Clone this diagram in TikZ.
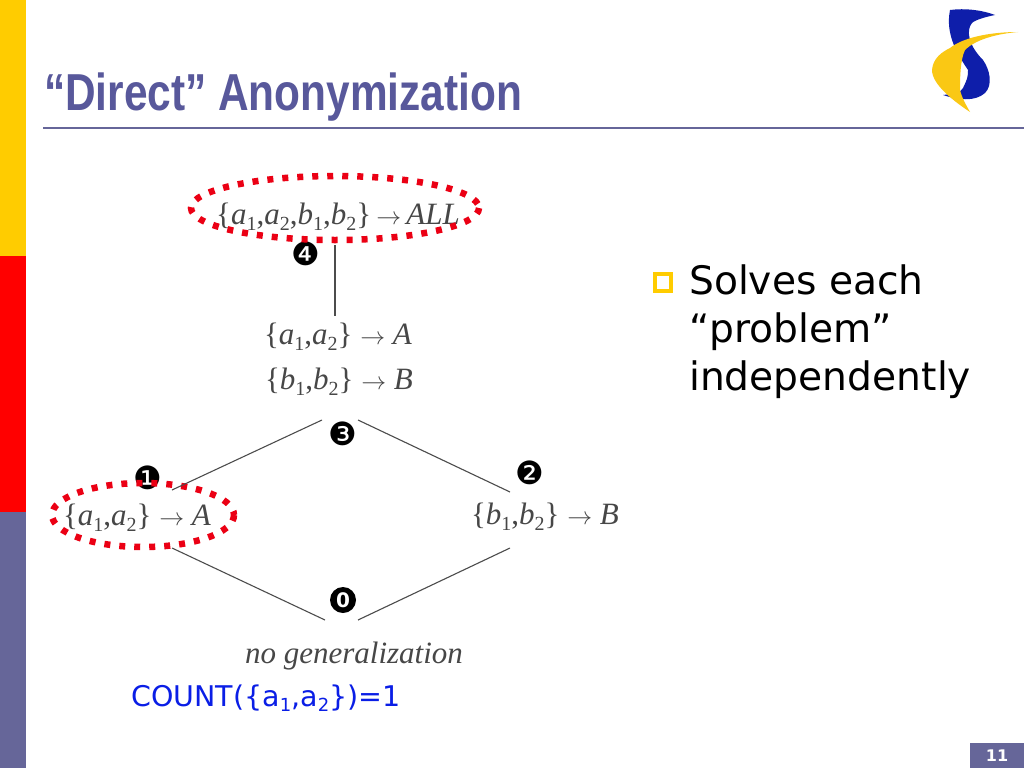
\documentclass[tikz,border=0pt]{standalone}
\usepackage{fontspec}
\setmainfont{Liberation Serif}
\newfontfamily\bodyfont{DejaVu Sans}
\newfontfamily\titlefont{Liberation Sans}
\usepackage{tikz}
\usetikzlibrary{shapes.geometric}
\usetikzlibrary{positioning}
\definecolor{slate}{RGB}{102, 102, 153}
\definecolor{titleblue}{RGB}{88, 88, 155}
\definecolor{amber}{RGB}{255, 204, 0}
\definecolor{ringred}{RGB}{235, 0, 20}
\definecolor{logoblue}{RGB}{14, 30, 170}
\definecolor{logoyellow}{RGB}{250, 200, 20}
\definecolor{countblue}{RGB}{10, 30, 230}
\tikzset{
  setnode/.style={inner sep=0pt, anchor=base, text=black!72, font=\fontsize{31}{31}\selectfont},
  marknode/.style={inner sep=0pt, font=\bodyfont\fontsize{32}{32}\selectfont},
  bodynode/.style={inner sep=0pt, anchor=base west, font=\bodyfont\fontsize{39.2}{39.2}\selectfont},
  ring/.style={draw=ringred, line width=6.5pt, dash pattern=on 6pt off 9pt},
  edge/.style={draw=black!70, line width=1.1pt}
}
\newcommand{\vsub}[2]{\textit{#1}\raisebox{-.22em}{\fontsize{20}{20}\selectfont #2}}
\begin{document}
\begin{tikzpicture}[x=1pt,y=-1pt]
\useasboundingbox (0,0) rectangle (1024,768);
\fill[white] (0,0) rectangle (1024,768);

\fill[amber] (0,0) rectangle (26,256);
\fill[red] (0,256) rectangle (26,512);
\fill[slate] (0,512) rectangle (26,768);
\fill[slate] (43,127) rectangle (1024,129);
\fill[slate] (970,743) rectangle (1024,768);

\node[inner sep=0pt, anchor=base west, xscale=.815, text=titleblue, font=\titlefont\bfseries\fontsize{52}{52}\selectfont] (title) at (44,110) {“Direct” Anonymization};
\node[inner sep=0pt, text=white, font=\bodyfont\bfseries\fontsize{16}{16}\selectfont] (pagenum) at (997,756) {11};

% logo
\fill[logoblue] (950,10) .. controls (965,8) and (982,10) .. (995,15) .. controls (985,17) and (975,20) .. (972,23)
  .. controls (966,30) and (968,45) .. (983,60) .. controls (990,70) and (993,85) .. (985,93)
  .. controls (975,102) and (958,100) .. (943,95) .. controls (952,94) and (962,92) .. (963,88)
  .. controls (968,78) and (968,75) .. (968,70) .. controls (958,55) and (945,35) .. (950,10);
\fill[logoyellow] (1018,32) .. controls (995,34) and (975,40) .. (965,50) .. controls (960,60) and (960,80) .. (960,90)
  .. controls (962,98) and (966,105) .. (970,112) .. controls (955,102) and (932,85) .. (932,70)
  .. controls (933,58) and (942,52) .. (950,48) .. controls (965,36) and (995,32) .. (1018,32);

% right text
\draw[amber, line width=4pt] (655,274) rectangle (671,291);
\node[bodynode] (solves) at (689,294) {Solves each};
\node[bodynode] (problem) at (689,342) {“problem”};
\node[bodynode] (indep) at (689,390) {independently};

% lattice
\node[setnode] (all) at (338,224) {\{\vsub{a}{1},\vsub{a}{2},\vsub{b}{1},\vsub{b}{2}\}\,$\rightarrow$\,\textit{ALL}};
\node[setnode] (ab) at (338,344) {\{\vsub{a}{1},\vsub{a}{2}\} $\rightarrow$ \textit{A}};
\node[setnode] (ba) at (339,389) {\{\vsub{b}{1},\vsub{b}{2}\} $\rightarrow$ \textit{B}};
\node[setnode] (left) at (137,525) {\{\vsub{a}{1},\vsub{a}{2}\} $\rightarrow$ \textit{A}};
\node[setnode] (right) at (545,524) {\{\vsub{b}{1},\vsub{b}{2}\} $\rightarrow$ \textit{B}};
\node[setnode] (none) at (354,663) {\textit{no generalization}};

\node[marknode] (mfour) at (306,254) {❹};
\node[marknode] (mthree) at (343,434) {❸};
\node[marknode] (mtwo) at (530,473) {❷};
\node[marknode] (mone) at (148,478) {❶};
\node[circle, fill=black, text=white, inner sep=0pt, minimum size=26pt, font=\bodyfont\bfseries\fontsize{20}{20}\selectfont] (mzero) at (343,600) {0};

\draw[ring] (335,208) circle[x radius=144, y radius=32];
\draw[ring] (143,515) circle[x radius=91, y radius=32];

\coordinate (c1) at (335,245);
\coordinate (c2) at (335,316);
\coordinate (c3) at (172,490);
\coordinate (c4) at (322,420);
\coordinate (c5) at (358,420);
\coordinate (c6) at (510,492);
\coordinate (c7) at (172,548);
\coordinate (c8) at (325,620);
\coordinate (c9) at (358,620);
\coordinate (c10) at (510,548);
\draw[edge] (c1)--(c2);
\draw[edge] (c3)--(c4);
\draw[edge] (c5)--(c6);
\draw[edge] (c7)--(c8);
\draw[edge] (c9)--(c10);

\node[inner sep=0pt, anchor=base west, text=countblue, font=\bodyfont\fontsize{28.5}{28.5}\selectfont] (count) at (131,706) {COUNT(\{a\raisebox{-.2em}{\fontsize{18}{18}\selectfont 1},a\raisebox{-.2em}{\fontsize{18}{18}\selectfont 2}\})=1};
\end{tikzpicture}
\end{document}
